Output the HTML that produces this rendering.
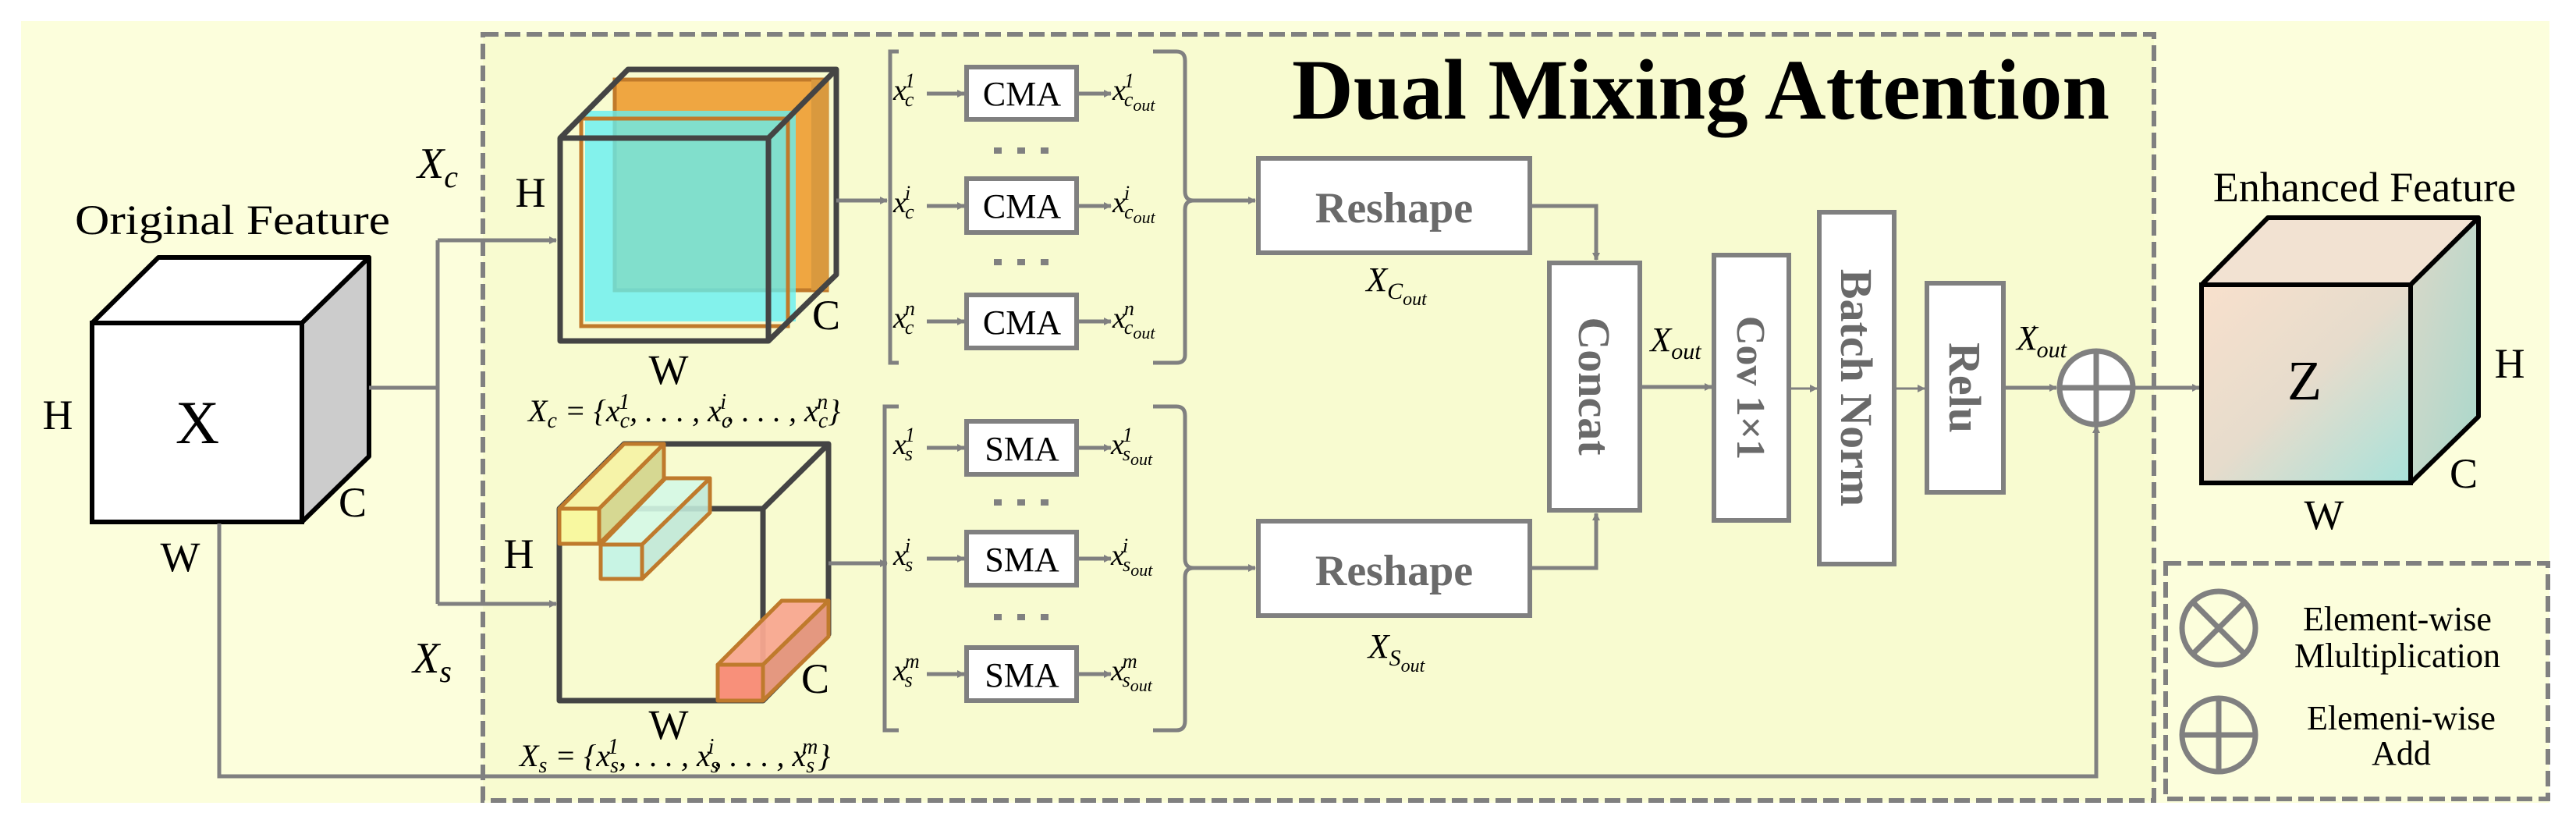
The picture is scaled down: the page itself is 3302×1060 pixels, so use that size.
<!DOCTYPE html>
<html><head><meta charset="utf-8"><style>
html,body{margin:0;padding:0;background:#fff;}
svg{display:block;font-family:"Liberation Serif","DejaVu Serif",serif;}
svg text{font-family:"Liberation Serif","DejaVu Serif",serif;}
.it{font-style:italic;}
</style></head><body>
<svg width="3302" height="1060" viewBox="0 0 3302 1060" xmlns="http://www.w3.org/2000/svg" font-family="Liberation Serif, DejaVu Serif, serif" style="font-family:'Liberation Serif','DejaVu Serif',serif">
<defs>
<marker id="ar" markerWidth="10" markerHeight="10" refX="9" refY="5" orient="auto" markerUnits="userSpaceOnUse" viewBox="0 0 10 10"><path d="M0,0 L10,5 L0,10 z" fill="#808080"/></marker>
<linearGradient id="zg" x1="0" y1="0" x2="1" y2="1"><stop offset="0" stop-color="#f8e0cc"/><stop offset="0.5" stop-color="#e6dccc"/><stop offset="1" stop-color="#a8e2da"/></linearGradient>
<linearGradient id="zs" x1="0" y1="0" x2="1" y2="1"><stop offset="0" stop-color="#dcd8c8"/><stop offset="1" stop-color="#a8d8cc"/></linearGradient>
</defs>
<rect x="27" y="27" width="3241" height="1002" fill="#fcfedc"/>
<rect x="619" y="44" width="2142" height="982" fill="#f8fbd0" stroke="#808080" stroke-width="6" stroke-dasharray="20,8"/>
<rect x="2776" y="722" width="490" height="302" fill="#fcfedc" stroke="#808080" stroke-width="6" stroke-dasharray="20,8"/>

<!-- Original cube -->
<text x="298" y="300" font-size="54" text-anchor="middle" textLength="404" lengthAdjust="spacingAndGlyphs">Original Feature</text>
<polygon points="118,414 203,330 473,330 387,414" fill="#fff" stroke="#000" stroke-width="6" stroke-linejoin="round"/>
<polygon points="387,414 473,330 473,585 387,669" fill="#cccccc" stroke="#000" stroke-width="6" stroke-linejoin="round"/>
<rect x="118" y="414" width="269" height="255" fill="#fff" stroke="#000" stroke-width="6"/>
<text x="253" y="568" font-size="78" text-anchor="middle">X</text>
<text x="74" y="550" font-size="54" text-anchor="middle">H</text>
<text x="452" y="662" font-size="54" text-anchor="middle">C</text>
<text x="231" y="732" font-size="54" text-anchor="middle">W</text>

<!-- connectors from X -->
<g stroke="#808080" stroke-width="5" fill="none">
<path d="M473,497 H561"/>
<path d="M561,308 V774"/>
<path d="M561,308 H713" marker-end="url(#ar)"/>
<path d="M561,774 H713" marker-end="url(#ar)"/>
<path d="M281,671 V995 H2687 V546" marker-end="url(#ar)"/>
</g>
<text x="561" y="228" font-size="56" class="it" text-anchor="middle">X<tspan font-size="40" dy="12">c</tspan></text>
<text x="554" y="862" font-size="56" class="it" text-anchor="middle">X<tspan font-size="40" dy="12">s</tspan></text>

<!-- channel cube -->
<rect x="788" y="102" width="272" height="270" fill="#efa641" stroke="#c07a2a" stroke-width="5"/>
<rect x="1040" y="102" width="22" height="270" fill="#d9993e"/>
<rect x="750" y="142" width="270" height="270" fill="#62f0f4" fill-opacity="0.78"/>
<rect x="745" y="152" width="265" height="266" fill="none" stroke="#c07a2a" stroke-width="5"/>
<g fill="none" stroke="#444" stroke-width="7" stroke-linejoin="round">
<rect x="718" y="177" width="267" height="260"/>
<path d="M718,177 L805,89 H1072 V352 L985,437 M985,177 L1072,89"/>
</g>
<text x="680" y="265" font-size="54" text-anchor="middle">H</text>
<text x="1059" y="422" font-size="54" text-anchor="middle">C</text>
<text x="857" y="492" font-size="54" text-anchor="middle">W</text>
<text x="677" y="540" font-size="40" class="it">X<tspan font-size="28" dy="8">c</tspan><tspan dy="-8"> = {x</tspan><tspan font-size="28" dy="8">c</tspan><tspan font-size="28" dx="-14" dy="-24">1</tspan><tspan dy="16">, . . . , x</tspan><tspan font-size="28" dy="8">c</tspan><tspan font-size="28" dx="-14" dy="-24">i</tspan><tspan dy="16">, . . . , x</tspan><tspan font-size="28" dy="8">c</tspan><tspan font-size="28" dx="-14" dy="-24">n</tspan><tspan dy="16">}</tspan></text>

<!-- spatial cube -->
<g fill="none" stroke="#444" stroke-width="7" stroke-linejoin="round">
<rect x="717" y="652" width="261" height="246"/>
<path d="M717,652 L800,569 H1062 V813 L978,898 M978,652 L1062,569"/>
</g>
<g stroke="#bf7a2c" stroke-width="5" stroke-linejoin="round">
<polygon points="717,652 800,569 851,569 768,652" fill="#f6f3a8"/>
<polygon points="768,652 851,569 851,614 768,697" fill="#d6d892"/>
<rect x="717" y="652" width="51" height="45" fill="#f8f8a0"/>
<polygon points="770,698 853,613 910,613 823,698" fill="#d4f8e6" fill-opacity="0.9"/>
<polygon points="823,698 910,613 910,657 823,742" fill="#c0e8d8" fill-opacity="0.9"/>
<rect x="770" y="698" width="53" height="44" fill="#c8f4e4"/>
<polygon points="920,852 1002,770 1062,770 978,852" fill="#f8a890" fill-opacity="0.95"/>
<polygon points="978,852 1062,770 1062,816 978,898" fill="#e49880"/>
<rect x="920" y="852" width="58" height="46" fill="#f8907a"/>
</g>
<text x="665" y="728" font-size="54" text-anchor="middle">H</text>
<text x="1045" y="888" font-size="54" text-anchor="middle">C</text>
<text x="857" y="947" font-size="54" text-anchor="middle">W</text>
<text x="666" y="982" font-size="40" class="it">X<tspan font-size="28" dy="8">s</tspan><tspan dy="-8"> = {x</tspan><tspan font-size="28" dy="8">s</tspan><tspan font-size="28" dx="-14" dy="-24">1</tspan><tspan dy="16">, . . . , x</tspan><tspan font-size="28" dy="8">s</tspan><tspan font-size="28" dx="-14" dy="-24">i</tspan><tspan dy="16">, . . . , x</tspan><tspan font-size="28" dy="8">s</tspan><tspan font-size="28" dx="-16" dy="-24">m</tspan><tspan dy="16">}</tspan></text>

<!-- brackets -->
<g stroke="#808080" stroke-width="5" fill="none">
<path d="M1072,257 H1137" marker-end="url(#ar)"/>
<path d="M1062,722 H1137" marker-end="url(#ar)"/>
<path d="M1152,66 H1141 V465 H1152"/>
<path d="M1478,66 H1508 Q1519,66 1519,78 V245 Q1519,257 1530,257 Q1519,257 1519,269 V455 Q1519,465 1508,465 H1478"/>
<path d="M1530,257 H1609" marker-end="url(#ar)"/>
<path d="M1152,521 H1134 V936 H1152"/>
<path d="M1478,521 H1508 Q1519,521 1519,533 V716 Q1519,728 1530,728 Q1519,728 1519,740 V924 Q1519,936 1508,936 H1478"/>
<path d="M1530,728 H1609" marker-end="url(#ar)"/>
</g>
<!-- CMA / SMA rows -->
<g font-size="44" text-anchor="middle">
<g stroke="#808080" stroke-width="6" fill="#fff">
<rect x="1239" y="86" width="141" height="67"/>
<rect x="1239" y="229" width="141" height="69"/>
<rect x="1239" y="378" width="141" height="68"/>
<rect x="1239" y="540" width="141" height="68"/>
<rect x="1239" y="682" width="141" height="68"/>
<rect x="1239" y="830" width="141" height="68"/>
</g>
<text x="1310" y="135">CMA</text><text x="1310" y="279">CMA</text><text x="1310" y="428">CMA</text>
<text x="1310" y="590">SMA</text><text x="1310" y="732">SMA</text><text x="1310" y="880">SMA</text>
</g>
<g stroke="#808080" stroke-width="5" fill="none">
<path d="M1188,120 H1236" marker-end="url(#ar)"/><path d="M1380,120 H1424" marker-end="url(#ar)"/>
<path d="M1188,264 H1236" marker-end="url(#ar)"/><path d="M1380,264 H1424" marker-end="url(#ar)"/>
<path d="M1188,412 H1236" marker-end="url(#ar)"/><path d="M1380,412 H1424" marker-end="url(#ar)"/>
<path d="M1188,574 H1236" marker-end="url(#ar)"/><path d="M1380,574 H1424" marker-end="url(#ar)"/>
<path d="M1188,716 H1236" marker-end="url(#ar)"/><path d="M1380,716 H1424" marker-end="url(#ar)"/>
<path d="M1188,864 H1236" marker-end="url(#ar)"/><path d="M1380,864 H1424" marker-end="url(#ar)"/>
</g>
<g fill="#808080">
<rect x="1274" y="189" width="10" height="8"/><rect x="1304" y="189" width="10" height="8"/><rect x="1334" y="189" width="10" height="8"/>
<rect x="1274" y="332" width="10" height="8"/><rect x="1304" y="332" width="10" height="8"/><rect x="1334" y="332" width="10" height="8"/>
<rect x="1274" y="640" width="10" height="8"/><rect x="1304" y="640" width="10" height="8"/><rect x="1334" y="640" width="10" height="8"/>
<rect x="1274" y="787" width="10" height="8"/><rect x="1304" y="787" width="10" height="8"/><rect x="1334" y="787" width="10" height="8"/>
</g>
<g font-size="38" class="it">
<text x="1145" y="128">x<tspan font-size="26" dx="-2" dy="-16">1</tspan><tspan font-size="26" dx="-13" dy="24">c</tspan></text>
<text x="1145" y="272">x<tspan font-size="26" dx="-2" dy="-16">i</tspan><tspan font-size="26" dx="-7" dy="24">c</tspan></text>
<text x="1145" y="420">x<tspan font-size="26" dx="-2" dy="-16">n</tspan><tspan font-size="26" dx="-13" dy="24">c</tspan></text>
<text x="1145" y="582">x<tspan font-size="26" dx="-2" dy="-16">1</tspan><tspan font-size="26" dx="-13" dy="24">s</tspan></text>
<text x="1145" y="724">x<tspan font-size="26" dx="-2" dy="-16">i</tspan><tspan font-size="26" dx="-7" dy="24">s</tspan></text>
<text x="1145" y="872">x<tspan font-size="26" dx="-2" dy="-16">m</tspan><tspan font-size="26" dx="-19" dy="24">s</tspan></text>
<text x="1426" y="128">x<tspan font-size="26" dx="-2" dy="-16">1</tspan><tspan font-size="26" dx="-13" dy="24">c</tspan><tspan font-size="22" dy="6">out</tspan></text>
<text x="1426" y="272">x<tspan font-size="26" dx="-2" dy="-16">i</tspan><tspan font-size="26" dx="-7" dy="24">c</tspan><tspan font-size="22" dy="6">out</tspan></text>
<text x="1426" y="420">x<tspan font-size="26" dx="-2" dy="-16">n</tspan><tspan font-size="26" dx="-13" dy="24">c</tspan><tspan font-size="22" dy="6">out</tspan></text>
<text x="1424" y="582">x<tspan font-size="26" dx="-2" dy="-16">1</tspan><tspan font-size="26" dx="-13" dy="24">s</tspan><tspan font-size="22" dy="6">out</tspan></text>
<text x="1424" y="724">x<tspan font-size="26" dx="-2" dy="-16">i</tspan><tspan font-size="26" dx="-7" dy="24">s</tspan><tspan font-size="22" dy="6">out</tspan></text>
<text x="1424" y="872">x<tspan font-size="26" dx="-2" dy="-16">m</tspan><tspan font-size="26" dx="-19" dy="24">s</tspan><tspan font-size="22" dy="6">out</tspan></text>
</g>

<!-- Title -->
<text x="1656" y="152" font-size="110" font-weight="bold" textLength="1048" lengthAdjust="spacingAndGlyphs">Dual Mixing Attention</text>

<!-- Reshape / Concat -->
<g stroke="#808080" stroke-width="6" fill="#fff">
<rect x="1613" y="203" width="348" height="121"/>
<rect x="1613" y="668" width="348" height="121"/>
<rect x="1986" y="337" width="116" height="317"/>
<rect x="2197" y="327" width="96" height="340"/>
<rect x="2332" y="272" width="96" height="451"/>
<rect x="2470" y="363" width="98" height="268"/>
</g>
<g font-weight="bold" fill="#6a6a6a" text-anchor="middle">
<text x="1787" y="285" font-size="56">Reshape</text>
<text x="1787" y="750" font-size="56">Reshape</text>
<text transform="translate(2044,495) rotate(90)" y="20" font-size="58">Concat</text>
<text transform="translate(2245,497) rotate(90)" y="18" font-size="52">Cov 1×1</text>
<text transform="translate(2380,497) rotate(90)" y="20" font-size="58">Batch Norm</text>
<text transform="translate(2519,497) rotate(90)" y="20" font-size="58">Relu</text>
</g>
<g stroke="#808080" stroke-width="5" fill="none">
<path d="M1961,264 H2046 V333" marker-end="url(#ar)"/>
<path d="M1961,728 H2046 V658" marker-end="url(#ar)"/>
<path d="M2102,496 H2194" marker-end="url(#ar)"/>
<path d="M2293,498 H2329" marker-end="url(#ar)" stroke-width="3"/>
<path d="M2428,498 H2467" marker-end="url(#ar)" stroke-width="3"/>
<path d="M2568,497 H2636" marker-end="url(#ar)"/>
<path d="M2736,497 H2819" marker-end="url(#ar)"/>
</g>
<g font-size="44" class="it" text-anchor="middle">
<text x="1790" y="373">X<tspan font-size="30" dy="10">C</tspan><tspan font-size="24" dy="8">out</tspan></text>
<text x="1790" y="843">X<tspan font-size="30" dy="10">S</tspan><tspan font-size="24" dy="8">out</tspan></text>
<text x="2148" y="450">X<tspan font-size="30" dy="10">out</tspan></text>
<text x="2617" y="448">X<tspan font-size="22" dx="-8" dy="-16">'</tspan><tspan font-size="30" dx="2" dy="26">out</tspan></text>
</g>
<!-- plus circle -->
<g stroke="#808080" stroke-width="7" fill="none">
<circle cx="2687" cy="497" r="47" fill="#fff"/>
<path d="M2640,497 H2734 M2687,450 V544"/>
</g>

<!-- Z cube -->
<text x="3031" y="258" font-size="54" text-anchor="middle">Enhanced Feature</text>
<polygon points="2822,365 2907,279 3177,279 3090,365" fill="#f2e2d2" stroke="#000" stroke-width="6" stroke-linejoin="round"/>
<polygon points="3090,365 3177,279 3177,534 3090,619" fill="url(#zs)" stroke="#000" stroke-width="6" stroke-linejoin="round"/>
<rect x="2822" y="365" width="268" height="254" fill="url(#zg)" stroke="#000" stroke-width="6"/>
<text x="2954" y="512" font-size="72" text-anchor="middle">Z</text>
<text x="3217" y="484" font-size="54" text-anchor="middle">H</text>
<text x="3158" y="625" font-size="54" text-anchor="middle">C</text>
<text x="2979" y="678" font-size="54" text-anchor="middle">W</text>

<!-- legend -->
<g stroke="#808080" stroke-width="7" fill="none">
<circle cx="2844" cy="805" r="47"/>
<path d="M2811,772 L2877,838 M2877,772 L2811,838"/>
<circle cx="2844" cy="942" r="47"/>
<path d="M2797,942 H2891 M2844,895 V989"/>
</g>
<g font-size="44" text-anchor="middle">
<text x="3073" y="808">Element-wise</text>
<text x="3073" y="855">Mlultiplication</text>
<text x="3078" y="935">Elemeni-wise</text>
<text x="3078" y="980">Add</text>
</g>
</svg>
</body></html>
